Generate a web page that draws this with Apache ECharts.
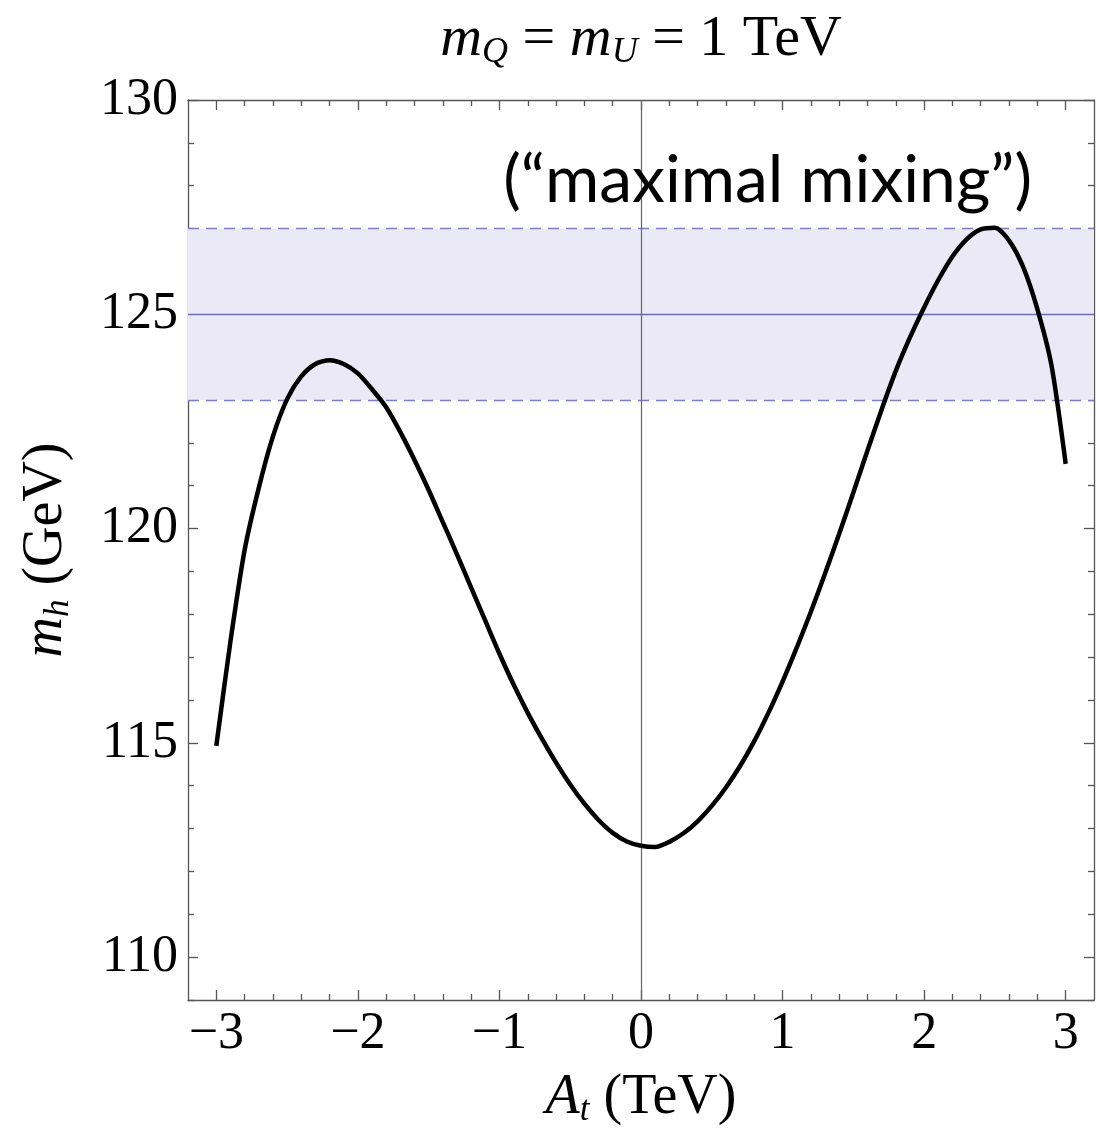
<!DOCTYPE html>
<html>
<head>
<meta charset="utf-8">
<script src="https://cdn.jsdelivr.net/npm/echarts@6/dist/echarts.min.js"></script>
<style>
  html, body { margin: 0; padding: 0; background: #fff; }
  #container { width: 1110px; height: 1133px; }
</style>
</head>
<body>
<div id="container"></div>
<script>
// A_t (TeV) and m_h (GeV)
const atValues = [
  -3.0, -2.9, -2.8, -2.7, -2.6, -2.5, -2.4, -2.3, -2.2, -2.1,
  -2.0, -1.9, -1.8, -1.7, -1.6, -1.5, -1.4, -1.3, -1.2, -1.1,
  -1.0, -0.9, -0.8, -0.7, -0.6, -0.5, -0.4, -0.3, -0.2, -0.1,
  0.0, 0.1, 0.2, 0.3, 0.4, 0.5, 0.6, 0.7, 0.8, 0.9,
  1.0, 1.1, 1.2, 1.3, 1.4, 1.5, 1.6, 1.7, 1.8, 1.9,
  2.0, 2.1, 2.2, 2.3, 2.4, 2.5, 2.6, 2.7, 2.8, 2.9, 3.0
];
const mhValues = [
  114.93, 117.37, 119.5, 120.95, 122.15, 123.02, 123.55, 123.84, 123.93, 123.84,
  123.62, 123.25, 122.83, 122.25, 121.6, 120.9, 120.15, 119.4, 118.62, 117.85,
  117.08, 116.36, 115.7, 115.1, 114.54, 114.03, 113.58, 113.2, 112.9, 112.7,
  112.6, 112.57, 112.69, 112.89, 113.17, 113.53, 113.96, 114.46, 115.04, 115.7,
  116.43, 117.22, 118.06, 118.95, 119.88, 120.84, 121.82, 122.78, 123.68, 124.46,
  125.16, 125.8, 126.35, 126.75, 126.98, 127.02, 126.72, 126.1, 125.12, 123.8, 121.51
];

// band 123-127 GeV around 125 GeV
const bandLow = 123;
const bandMid = 125;
const bandHigh = 127;

// ticks
const xMajor = [-3, -2, -1, 0, 1, 2, 3];
const xMinor = [-2.8, -2.6, -2.4, -2.2, -1.8, -1.6, -1.4, -1.2, -0.8, -0.6, -0.4, -0.2,
                0.2, 0.4, 0.6, 0.8, 1.2, 1.4, 1.6, 1.8, 2.2, 2.4, 2.6, 2.8];
const yMajor = [110, 115, 120, 125, 130];
const yMinor = [109, 111, 112, 113, 114, 116, 117, 118, 119, 121, 122, 123, 124, 126, 127, 128, 129];

const serif = 'Liberation Serif';
const frame = '#555';

const curve = atValues.map((a, i) => [a, mhValues[i]]);

function fmtNum(v) {
    return v < 0 ? '\u2212' + (-v) : String(v);
}

function xAxisDef(position, ticks, len, withLine, withLabels, extra) {
    return Object.assign({
        type: 'value', min: -3.2, max: 3.2, position: position,
        splitLine: { show: false },
        axisLine: { show: withLine, onZero: false, lineStyle: { color: frame, width: 1.3 } },
        axisTick: { show: true, inside: true, length: len, customValues: ticks,
                    lineStyle: { color: frame, width: 1.3 } },
        axisLabel: withLabels ? {
            show: true, customValues: ticks, margin: 8,
            fontFamily: serif, fontSize: 52, color: '#000',
            formatter: fmtNum
        } : { show: false }
    }, extra || {});
}

function yAxisDef(position, ticks, len, withLine, withLabels, extra) {
    return Object.assign({
        type: 'value', min: 109, max: 130, position: position,
        splitLine: { show: false },
        axisLine: { show: withLine, onZero: false, lineStyle: { color: frame, width: 1.3 } },
        axisTick: { show: true, inside: true, length: len, customValues: ticks,
                    lineStyle: { color: frame, width: 1.3 } },
        axisLabel: withLabels ? {
            show: true, customValues: ticks, margin: 10,
            fontFamily: serif, fontSize: 52, color: '#000'
        } : { show: false }
    }, extra || {});
}

const nameRich = {
    it: { fontFamily: serif, fontStyle: 'italic', fontSize: 56, lineHeight: 60, color: '#000' },
    sub: { fontFamily: serif, fontStyle: 'italic', fontSize: 35, lineHeight: 26, verticalAlign: 'bottom', color: '#000' },
    rm: { fontFamily: serif, fontSize: 56, lineHeight: 60, color: '#000' }
};

const chart = echarts.init(document.getElementById('container'), null, { renderer: 'canvas' });

const option = {
    animation: false,
    backgroundColor: '#fff',
    grid: { left: 188, right: 16, top: 100, bottom: 130 },
    xAxis: [
        xAxisDef('bottom', xMajor, 10, true, true, {
            name: '{it|A}{sub|t}{rm| (TeV)}',
            nameLocation: 'middle',
            nameGap: 68,
            nameTextStyle: { rich: nameRich }
        }),
        xAxisDef('bottom', xMinor, 6, false, false),
        xAxisDef('top', xMajor, 10, true, false),
        xAxisDef('top', xMinor, 6, false, false)
    ],
    yAxis: [
        yAxisDef('left', yMajor, 10, true, true, {
            name: '{it|m}{sub|h}{rm| (GeV)}',
            nameLocation: 'middle',
            nameRotate: 90,
            nameGap: 112,
            nameTextStyle: { rich: nameRich }
        }),
        yAxisDef('left', yMinor, 6, false, false),
        yAxisDef('right', yMajor, 10, true, false),
        yAxisDef('right', yMinor, 6, false, false)
    ],
    graphic: [
        {
            type: 'text',
            x: 641, y: 40,
            style: {
                text: '{it|m}{sub|Q}{rm| = }{it|m}{sub|U}{rm| = 1 TeV}',
                align: 'center', verticalAlign: 'middle',
                textAlign: 'center', textVerticalAlign: 'middle',
                rich: {
                    it: { fontFamily: serif, fontStyle: 'italic', fontSize: 58, lineHeight: 62, fill: '#000' },
                    sub: { fontFamily: serif, fontStyle: 'italic', fontSize: 36, lineHeight: 26, verticalAlign: 'bottom', fill: '#000' },
                    rm: { fontFamily: serif, fontSize: 58, lineHeight: 62, fill: '#000' }
                }
            }
        },
        {
            type: 'text',
            x: 1032, y: 181,
            z: 10,
            style: {
                text: '(\u201Cmaximal mixing\u201D)',
                align: 'right', verticalAlign: 'middle',
                textAlign: 'right', textVerticalAlign: 'middle',
                fontFamily: 'Lato', fontSize: 66, fill: '#000'
            }
        }
    ],
    series: [
        {
            type: 'line',
            data: [],
            xAxisIndex: 0,
            yAxisIndex: 0,
            silent: true,
            markArea: {
                silent: true,
                itemStyle: { color: '#ebe9f5' },
                data: [[{ yAxis: bandLow }, { yAxis: bandHigh }]]
            },
            markLine: {
                silent: true,
                symbol: 'none',
                label: { show: false },
                data: [
                    { yAxis: bandLow, lineStyle: { color: '#7f7fbf', width: 1.4, type: [11, 7] } },
                    { yAxis: bandHigh, lineStyle: { color: '#7f7fbf', width: 1.4, type: [11, 7] } },
                    { yAxis: bandMid, lineStyle: { color: '#6d6db3', width: 1.4, type: 'solid' } },
                    { xAxis: 0, lineStyle: { color: '#666', width: 1.2, type: 'solid' } }
                ]
            }
        },
        {
            type: 'line',
            data: curve,
            xAxisIndex: 0,
            yAxisIndex: 0,
            z: 5,
            showSymbol: false,
            smooth: 0.25,
            lineStyle: { color: '#000', width: 4.5 }
        }
    ]
};

chart.setOption(option);
window.addEventListener('resize', () => chart.resize());
</script>
</body>
</html>
